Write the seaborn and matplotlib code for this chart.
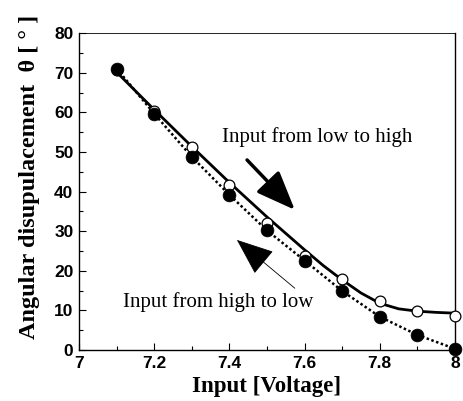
import numpy as np
import pandas as pd
import seaborn as sns
import matplotlib.pyplot as plt
from matplotlib.ticker import MultipleLocator

voltage = [7.1, 7.2, 7.3, 7.4, 7.5, 7.6, 7.7, 7.8, 7.9, 8.0]
low_to_high = [70.8, 60.3, 51.3, 41.6, 32.2, 23.8, 17.9, 12.4, 9.8, 8.6]
high_to_low = [71.1, 59.7, 48.8, 39.2, 30.2, 22.6, 14.9, 8.4, 3.8, 0.3]
# smooth trend line drawn through the "low to high" data
curve_v = [7.1, 7.2, 7.3, 7.4, 7.5, 7.6, 7.65, 7.7, 7.75, 7.8, 7.85, 7.9, 7.95, 8.0]
curve_up = [70.2, 60.7, 51.4, 42.3, 33.6, 25.3, 21.3, 17.7, 14.4, 11.8, 10.4, 9.8, 9.5, 9.3]
x_ticks = [7, 7.2, 7.4, 7.6, 7.8, 8]
x_tick_labels = ["7", "7.2", "7.4", "7.6", "7.8", "8"]
y_ticks = [0, 10, 20, 30, 40, 50, 60, 70, 80]
y_tick_labels = ["0", "10", "20", "30", "40", "50", "60", "70", "80"]

df_up = pd.DataFrame({"V": voltage, "theta": low_to_high})
df_down = pd.DataFrame({"V": voltage, "theta": high_to_low})
df_curve = pd.DataFrame({"V": curve_v, "theta": curve_up})

sns.set_theme(style="ticks")
plt.rcParams["font.family"] = ["Liberation Serif", "DejaVu Serif"]

fig = plt.figure(figsize=(4.63, 4.01), dpi=100)
ax = fig.add_axes([0.1706, 0.1272, 0.8121, 0.7898])

sns.lineplot(data=df_curve, x="V", y="theta", ax=ax, color="black", lw=2.0)
sns.lineplot(data=df_down, x="V", y="theta", ax=ax, color="black", lw=1.8,
             linestyle=(0, (1, 1)))
sns.scatterplot(data=df_up, x="V", y="theta", ax=ax, s=60, facecolor="white",
                edgecolor="black", linewidth=0.9, zorder=3, clip_on=False)
sns.scatterplot(data=df_down, x="V", y="theta", ax=ax, s=85, color="black",
                edgecolor="black", linewidth=0.5, zorder=4, clip_on=False)

ax.set_xlim(7, 8)
ax.set_ylim(0, 80)
ax.set_xticks(x_ticks)
ax.set_xticklabels(x_tick_labels)
ax.set_yticks(y_ticks)
ax.set_yticklabels(y_tick_labels)
ax.xaxis.set_minor_locator(MultipleLocator(0.1))
ax.yaxis.set_minor_locator(MultipleLocator(5))
ax.tick_params(which="both", direction="in", color="black", width=0.8)
ax.tick_params(which="major", length=5, pad=4)
ax.tick_params(which="minor", length=3)
for lab in ax.get_xticklabels() + ax.get_yticklabels():
    lab.set_family(["Liberation Sans Narrow", "Liberation Sans", "DejaVu Sans"])
    lab.set_fontweight("bold")
    lab.set_fontsize(12.5)
    lab.set_color("black")
for sp in ax.spines.values():
    sp.set_visible(True)
    sp.set_color("black")
    sp.set_linewidth(1.0)
ax.spines["top"].set_linewidth(0.6)

ax.set_xlabel("Input [Voltage]", fontsize=16.5, fontweight="bold", color="black", labelpad=4)
ax.set_ylabel("Angular disupulacement  θ [ ° ]", fontsize=17.5, fontweight="bold",
              color="black")
ax.yaxis.set_label_coords(-0.103, 0.545)

ax.annotate("", xy=(7.574, 35.4), xytext=(7.447, 48.0),
            arrowprops=dict(arrowstyle="-|>,head_length=2.0,head_width=0.8",
                            mutation_scale=12, color="black", lw=2.5,
                            shrinkA=0, shrinkB=0))
ax.annotate("", xy=(7.42, 27.8), xytext=(7.574, 15.6),
            arrowprops=dict(arrowstyle="-|>,head_length=2.0,head_width=0.8",
                            mutation_scale=12, color="black", lw=0.6,
                            shrinkA=0, shrinkB=0))
ax.text(7.38, 53.8, "Input from low to high", fontsize=15, color="black",
        ha="left", va="center")
ax.text(7.117, 12.1, "Input from high to low", fontsize=15, color="black",
        ha="left", va="center")

fig.savefig("out.png", dpi=100)
